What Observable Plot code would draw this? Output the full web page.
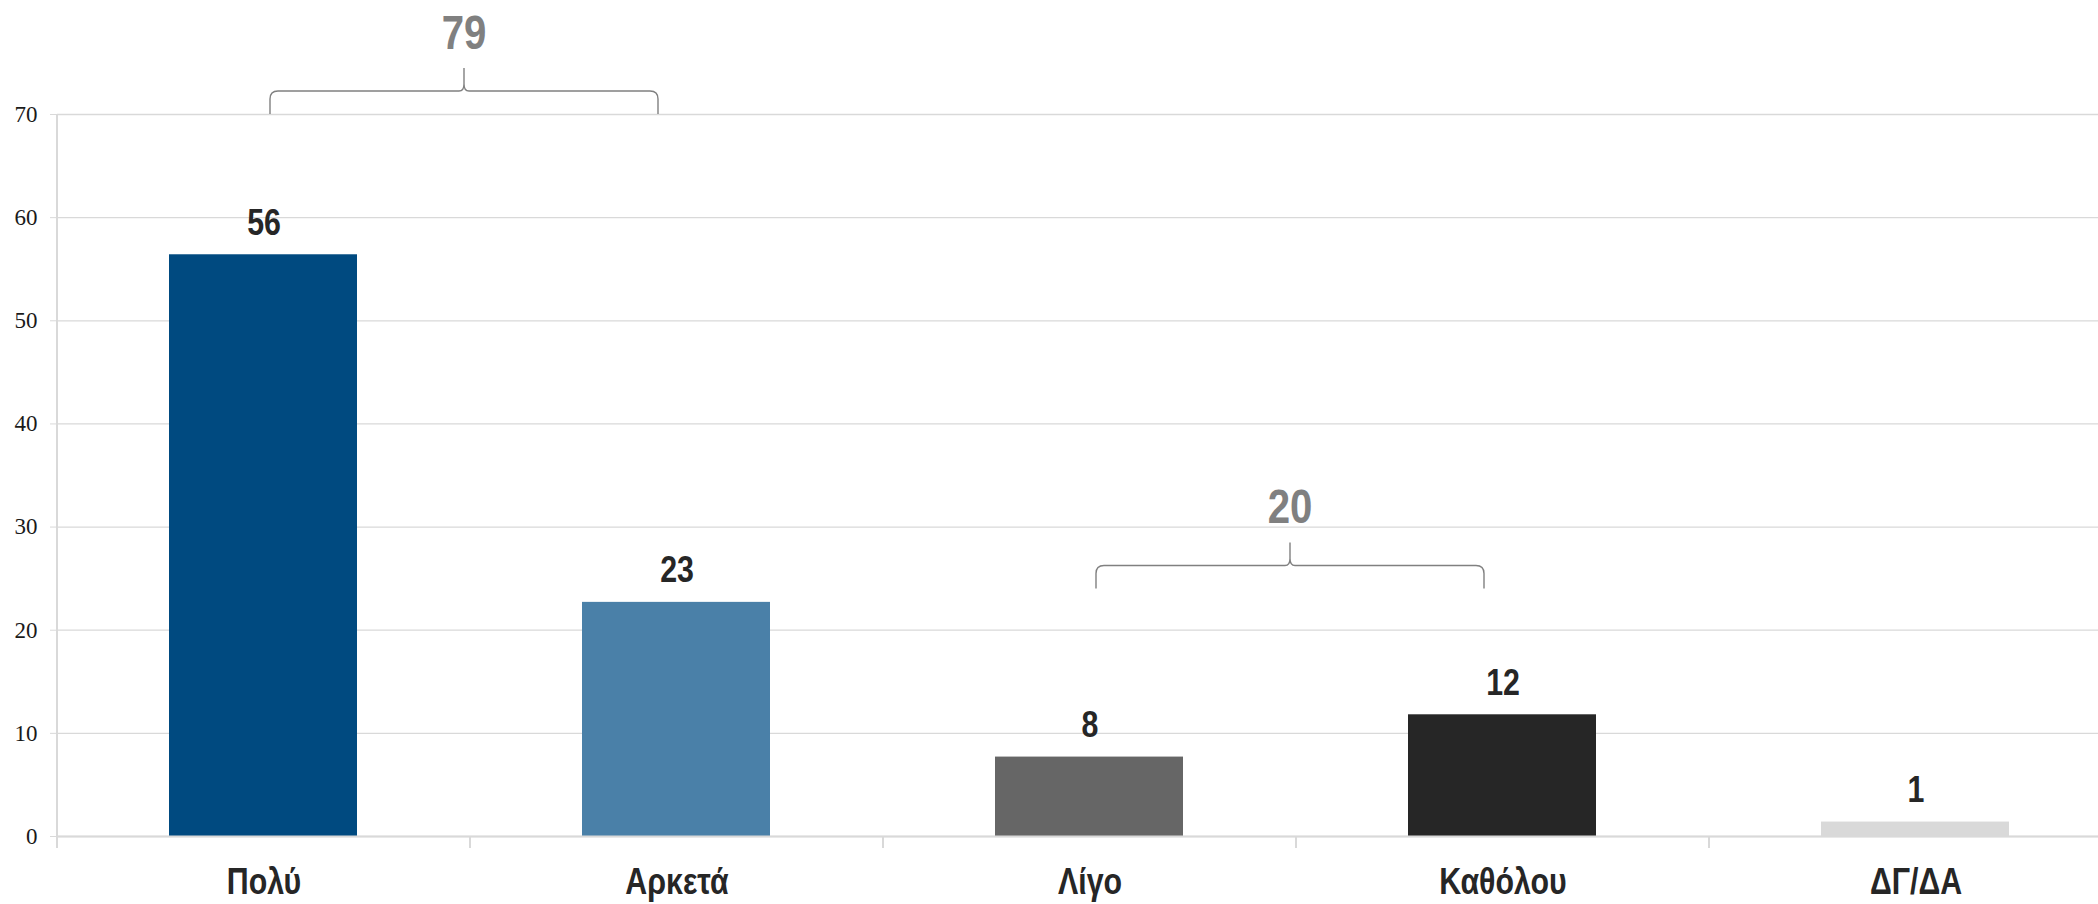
<!DOCTYPE html>
<html><head><meta charset="utf-8">
<script src="https://cdn.jsdelivr.net/npm/d3@7"></script>
<script src="https://cdn.jsdelivr.net/npm/@observablehq/plot@0.6"></script>
<style>
body{margin:0;background:#fff;overflow:hidden;}
</style></head><body><div id="chart"></div>
<script>
const categories = ["Πολύ","Αρκετά","Λίγο","Καθόλου","ΔΓ/ΔΑ"];
const values = [56.4, 22.7, 7.7, 11.8, 1.4];
const valueLabels = ["56","23","8","12","1"];
const barColors = ["#004a80","#4a80a8","#666666","#262626","#d9d9d9"];
const yTicks = [0,10,20,30,40,50,60,70];
const braceFrom = ["Πολύ","Λίγο"];
const braceTo = ["Αρκετά","Καθόλου"];
const braceBase = [70, 24];
const braceTotals = ["79","20"];

const data = categories.map((c,i)=>({cat:c, value:values[i], label:valueLabels[i]}));
const braces = braceFrom.map((f,i)=>({from:f, to:braceTo[i], base:braceBase[i], total:braceTotals[i]}));

const W = 2098, H = 904;
const mL = 57, mT = 114, mB = 68;
const step = 413;
const narrow = 0.82;
const sans = `"Liberation Sans","Arial",sans-serif`;

function decorations(index, scales) {
  const {x, y} = scales;
  const bw = x.bandwidth();
  const g = d3.create("svg:g");
  const y0 = y(0);
  g.append("line").attr("x1", mL).attr("x2", mL).attr("y1", y(70)).attr("y2", y0 + 12)
    .attr("stroke", "#d9d9d9").attr("stroke-width", 2);
  categories.forEach(c => {
    const xs = x(c) + bw;
    g.append("line").attr("x1", xs).attr("x2", xs).attr("y1", y0).attr("y2", y0 + 12)
      .attr("stroke", "#d9d9d9").attr("stroke-width", 2);
  });
  braces.forEach(b => {
    const c1 = x(b.from) + bw / 2, c2 = x(b.to) + bw / 2;
    const mid = (c1 + c2) / 2 - 6;
    const half = 194;
    const L = mid - half, R = mid + half;
    const yb = y(b.base), yh = yb - 23, yp = yh - 23, r = 8;
    const p = `M${L},${yb} L${L},${yh + r} Q${L},${yh} ${L + r},${yh} L${mid - 5},${yh} Q${mid},${yh} ${mid},${yh - 7} L${mid},${yp}` +
      ` M${mid},${yh - 7} Q${mid},${yh} ${mid + 5},${yh} L${R - r},${yh} Q${R},${yh} ${R},${yh + r} L${R},${yb}`;
    g.append("path").attr("d", p).attr("fill", "none").attr("stroke", "#808080").attr("stroke-width", 1.4);
    g.append("text").attr("transform", `translate(${mid},${yp - 19}) scale(${narrow},1)`).attr("text-anchor", "middle")
      .attr("font-family", sans).attr("font-weight", "bold")
      .attr("font-size", 49).attr("fill", "#808080").text(b.total);
  });
  return g.node();
}

const chart = Plot.plot({
  width: W, height: H,
  marginLeft: mL, marginRight: 0, marginTop: mT, marginBottom: mB,
  style: {background: "#fff", overflow: "hidden"},
  x: {type: "band", domain: categories, range: [mL, mL + categories.length * step], padding: 0, label: null},
  y: {domain: [0, 70], range: [H - mB, mT], label: null},
  color: {domain: categories, range: barColors},
  marks: [
    Plot.ruleY(yTicks, {stroke: "#d9d9d9", strokeWidth: 1.3}),
    Plot.barY(data, {x: "cat", y: "value", fill: "cat", insetLeft: 112, insetRight: 113}),
    Plot.ruleY([0], {stroke: "#d9d9d9", strokeWidth: 2}),
    decorations,
    Plot.text(data, {x: "cat", y: "value", text: "label", dy: -20, lineAnchor: "bottom",
      fontFamily: sans, fontWeight: "bold", fontSize: 37, fill: "#262626"}),
    Plot.axisY({ticks: yTicks, tickSize: 7, tickPadding: 13, stroke: "#d9d9d9", label: null,
      fontFamily: `"Liberation Serif", serif`, fontSize: 23, fill: "#1a1a1a"}),
    Plot.axisX({tickSize: 0, tickPadding: 31, fontFamily: sans, fontWeight: "bold", label: null,
      fontSize: 37, fill: "#262626"})
  ]
});
chart.querySelectorAll('g[aria-label="x-axis tick label"] text, g[aria-label="text"] text').forEach(t => {
  const tr = t.getAttribute("transform") || "";
  t.setAttribute("transform", tr + ` scale(${narrow},1)`);
});
document.getElementById("chart").append(chart);
</script>
</body></html>
